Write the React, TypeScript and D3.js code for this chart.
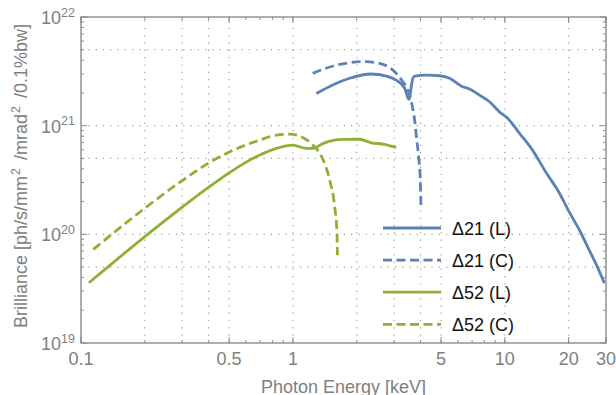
import React from "react";
import * as d3 from "d3";

// ---------- data (energy in keV, brilliance in ph/s/mm^2/mrad^2/0.1%bw) ----------
const xTickValues = [0.1, 0.5, 1, 5, 10, 20, 30];
const xTickLabels = ["0.1", "0.5", "1", "5", "10", "20", "30"];
const yTickExponents = [19, 20, 21, 22];
const xGridValues = [0.2, 0.3, 0.4, 0.5, 1, 2, 3, 4, 5, 10, 20];
const yGridValues = [5e19, 1e20, 5e20, 1e21, 5e21];

const seriesNames = ["Δ21 (L)", "Δ21 (C)", "Δ52 (L)", "Δ52 (C)"];

const d21L_E = [1.29, 1.54, 1.85, 2.34, 2.76, 3.07, 3.37, 3.52, 3.68, 3.75, 4.26, 4.92, 5.48, 6.25, 6.81, 7.59, 8.46, 9.43, 10.3, 11.7, 13.5, 15.7, 18.1, 19.9, 22.5, 25.0, 27.3, 29.5];
const d21L_B = [1.98e21, 2.37e21, 2.73e21, 2.99e21, 2.86e21, 2.63e21, 2.21e21, 1.75e21, 2.73e21, 2.86e21, 2.92e21, 2.88e21, 2.73e21, 2.31e21, 2.17e21, 1.91e21, 1.66e21, 1.34e21, 1.17e21, 8.55e20, 5.96e20, 3.66e20, 2.39e20, 1.67e20, 1.09e20, 7.15e19, 5.02e19, 3.55e19];

const d21C_E = [1.24, 1.55, 1.85, 2.14, 2.47, 2.81, 3.07, 3.30, 3.49, 3.62, 3.75, 3.84, 3.93, 3.99, 4.02];
const d21C_B = [3.03e21, 3.54e21, 3.80e21, 3.88e21, 3.80e21, 3.49e21, 3.03e21, 2.54e21, 2.13e21, 1.66e21, 1.13e21, 7.37e20, 4.82e20, 3.16e20, 1.74e20];

const d52L_E = [0.109, 0.2, 0.263, 0.398, 0.504, 0.698, 0.836, 1.0, 1.158, 1.24, 1.39, 1.72, 2.06, 2.34, 2.66, 3.07];
const d52L_B = [3.58e19, 9.52e19, 1.455e20, 2.69e20, 3.72e20, 5.38e20, 6.18e20, 6.63e20, 6.18e20, 6.18e20, 6.87e20, 7.48e20, 7.5e20, 6.96e20, 6.77e20, 6.31e20];

const d52C_E = [0.1143, 0.2, 0.293, 0.405, 0.522, 0.698, 0.836, 0.966, 1.077, 1.24, 1.39, 1.49, 1.574, 1.614, 1.621];
const d52C_B = [7.26e19, 1.74e20, 3.02e20, 4.59e20, 5.94e20, 7.37e20, 8.19e20, 8.37e20, 8.02e20, 6.63e20, 4.82e20, 3.16e20, 1.79e20, 1.02e20, 6.43e19];

const seriesE = [d21L_E, d21C_E, d52L_E, d52C_E];
const seriesB = [d21L_B, d21C_B, d52L_B, d52C_B];
const seriesColors = ["#5E81B5", "#5E81B5", "#8FB032", "#8FB032"];
const seriesDashed = [false, true, false, true];

// ---------- layout ----------
const W = 616, H = 395;
const L = 81, R = 606, T = 17, B = 343;
const FONT = "'Liberation Sans', Arial, sans-serif";
const GREY = "#808080";

export default function App() {
  const x = d3.scaleLog().domain([0.1, 30]).range([L, R]);
  const y = d3.scaleLog().domain([1e19, 1e22]).range([B, T]);

  const line = d3
    .line<[number, number]>()
    .x((d) => x(d[0]))
    .y((d) => y(d[1]))
    .curve(d3.curveMonotoneX);

  // minor ticks
  const xMinor: number[] = [];
  [0.1, 1, 10].forEach((dec) => {
    for (let k = 1; k <= 9; k++) {
      const v = +(k * dec).toPrecision(3);
      if (v >= 0.1 && v <= 30) xMinor.push(v);
    }
  });
  const yMinor: number[] = [];
  [1e19, 1e20, 1e21].forEach((dec) => {
    for (let k = 2; k <= 9; k++) yMinor.push(k * dec);
  });

  const legendY0 = 228, legendDy = 32.1;

  return (
    <svg
      width={W}
      height={H}
      style={{ position: "absolute", left: 0, top: 0, background: "#fff" }}
      fontFamily={FONT}
    >
      <rect x={0} y={0} width={W} height={H} fill="#fff" />
      {/* grid */}
      <g stroke="#a0a0a0" strokeWidth={1.2} strokeDasharray="1.2,6.1" fill="none">
        {xGridValues.map((v) => (
          <line key={"gx" + v} x1={x(v)} x2={x(v)} y1={B} y2={T} />
        ))}
        {yGridValues.map((v) => (
          <line key={"gy" + v} x1={L} x2={R} y1={y(v)} y2={y(v)} />
        ))}
      </g>

      {/* ticks */}
      <g stroke="#8c8c8c" strokeWidth={1}>
        {xMinor.map((v) => (
          <g key={"xm" + v}>
            <line x1={x(v)} x2={x(v)} y1={B} y2={B - 3} />
            <line x1={x(v)} x2={x(v)} y1={T} y2={T + 3} />
          </g>
        ))}
        {xTickValues.map((v) => (
          <g key={"xM" + v}>
            <line x1={x(v)} x2={x(v)} y1={B} y2={B - 6} />
            <line x1={x(v)} x2={x(v)} y1={T} y2={T + 6} />
          </g>
        ))}
        {yMinor.map((v) => (
          <g key={"ym" + v}>
            <line x1={L} x2={L + 3} y1={y(v)} y2={y(v)} />
            <line x1={R} x2={R - 3} y1={y(v)} y2={y(v)} />
          </g>
        ))}
        {yTickExponents.map((e) => (
          <g key={"yM" + e}>
            <line x1={L} x2={L + 6} y1={y(Math.pow(10, e))} y2={y(Math.pow(10, e))} />
            <line x1={R} x2={R - 6} y1={y(Math.pow(10, e))} y2={y(Math.pow(10, e))} />
          </g>
        ))}
      </g>

      {/* series */}
      {seriesE.map((es, i) => (
        <path
          key={"s" + i}
          d={line(es.map((e, j) => [e, seriesB[i][j]] as [number, number])) || ""}
          fill="none"
          stroke={seriesColors[i]}
          strokeWidth={2.8}
          strokeDasharray={seriesDashed[i] ? "9,4.5" : undefined}
          strokeLinejoin="round"
        />
      ))}

      {/* frame */}
      <rect x={L} y={T} width={R - L} height={B - T} fill="none" stroke="#8c8c8c" strokeWidth={1.4} />

      {/* x labels */}
      <g fill={GREY} fontSize={18} textAnchor="middle">
        {xTickValues.map((v, i) => (
          <text key={"xl" + v} x={x(v)} y={B + 21.5}>
            {xTickLabels[i]}
          </text>
        ))}
      </g>
      {/* y labels */}
      <g fill={GREY} fontSize={18} textAnchor="end">
        {yTickExponents.map((e) => (
          <text key={"yl" + e} x={75} y={y(Math.pow(10, e)) + 7}>
            10
            <tspan fontSize={12.5} dy={-7.5}>
              {String(e)}
            </tspan>
          </text>
        ))}
      </g>

      {/* axis titles */}
      <text x={(L + R) / 2} y={393} fill={GREY} fontSize={18} textAnchor="middle">
        Photon Energy [keV]
      </text>
      <text transform="translate(27,328) rotate(-90)" fill={GREY} fontSize={18} textAnchor="start">
        Brilliance [ph/s/mm
        <tspan fontSize={12.5} dy={-7.5} dx={1}>2</tspan>
        <tspan dy={7.5} dx={3}> /mrad</tspan>
        <tspan fontSize={12.5} dy={-7.5} dx={1}>2</tspan>
        <tspan dy={7.5} dx={3}> /0.1%bw]</tspan>
      </text>

      {/* legend */}
      {seriesNames.map((name, i) => {
        const ly = legendY0 + i * legendDy;
        return (
          <g key={"lg" + i}>
            <line
              x1={383}
              x2={441}
              y1={ly}
              y2={ly}
              stroke={seriesColors[i]}
              strokeWidth={2.8}
              strokeDasharray={seriesDashed[i] ? "9,4.5" : undefined}
            />
            <text x={452} y={ly + 6.5} fontSize={18} fill="#111">
              {name}
            </text>
          </g>
        );
      })}
    </svg>
  );
}
